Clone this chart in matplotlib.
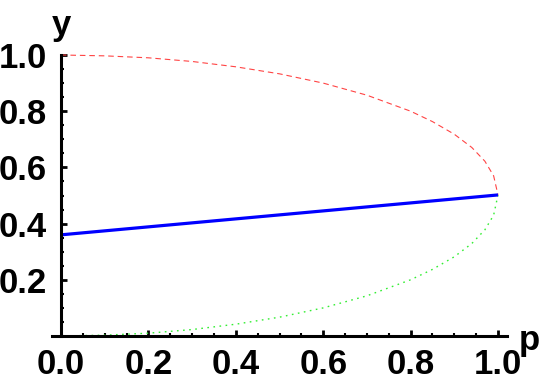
import matplotlib
matplotlib.use("Agg")
import matplotlib.pyplot as plt
from matplotlib.ticker import MultipleLocator, FixedLocator

# Data
p_curve = [0.0, 0.1, 0.2, 0.3, 0.4, 0.5, 0.6, 0.7, 0.8, 0.85, 0.9, 0.94, 0.97, 0.99, 1.0]
y_upper = [1.0, 0.997, 0.990, 0.977, 0.958, 0.933, 0.900, 0.857, 0.800, 0.763, 0.718, 0.671, 0.622, 0.570, 0.502]
y_lower = [0.0, 0.003, 0.010, 0.023, 0.042, 0.067, 0.100, 0.143, 0.200, 0.237, 0.282, 0.329, 0.378, 0.430, 0.502]
p_line = [0.0, 1.0]
y_line = [0.36, 0.502]

x_ticks = [0.0, 0.2, 0.4, 0.6, 0.8, 1.0]
x_ticklabels = ["0.0", "0.2", "0.4", "0.6", "0.8", "1.0"]
y_ticks = [0.2, 0.4, 0.6, 0.8, 1.0]
y_ticklabels = ["0.2", "0.4", "0.6", "0.8", "1.0"]

W, H = 545, 384
fig = plt.figure(figsize=(W / 100, H / 100), dpi=100)
ax = fig.add_axes([52 / W, 1 - 336 / H, 455 / W, 281 / H])

ax.plot(p_curve, y_upper, color="#ff4444", lw=0.8, dashes=(5, 3.5), clip_on=False)
ax.plot(p_curve, y_lower, color="#33ee33", lw=1.0, dashes=(1.2, 3.2), clip_on=False)
ax.plot(p_line, y_line, color="#0000ff", lw=2.3, solid_capstyle="butt", clip_on=False, zorder=3)

ax.set_xlim(-9 / 437, 1 + 9 / 437)
ax.set_ylim(0, 1)

for s in ["top", "right"]:
    ax.spines[s].set_visible(False)
ax.spines["left"].set_position(("data", 0))
ax.spines["bottom"].set_position(("data", 0))
for s in ["left", "bottom"]:
    ax.spines[s].set_linewidth(2.2)
    ax.spines[s].set_zorder(4)

ax.xaxis.set_major_locator(FixedLocator(x_ticks))
ax.set_xticklabels(x_ticklabels)
ax.yaxis.set_major_locator(FixedLocator(y_ticks))
ax.set_yticklabels(y_ticklabels)
ax.xaxis.set_minor_locator(MultipleLocator(0.05))
ax.yaxis.set_minor_locator(MultipleLocator(0.05))

font = dict(family="Liberation Sans", weight="bold", size=25)
ax.tick_params(which="major", direction="in", length=4.5, width=2.0, pad=9)
ax.tick_params(which="minor", direction="in", length=2.5, width=1.5)
ax.tick_params(axis="y", which="major", pad=10)
for lab in ax.get_xticklabels() + ax.get_yticklabels():
    lab.set_fontfamily("Liberation Sans")
    lab.set_fontweight("bold")
    lab.set_fontsize(25)

fig.text(61 / W, 1 - 35 / H, "y", ha="center", va="baseline", **font)
fig.text(519 / W, 1 - 350 / H, "p", ha="left", va="baseline", **font)

fig.savefig("out.png", dpi=100)
